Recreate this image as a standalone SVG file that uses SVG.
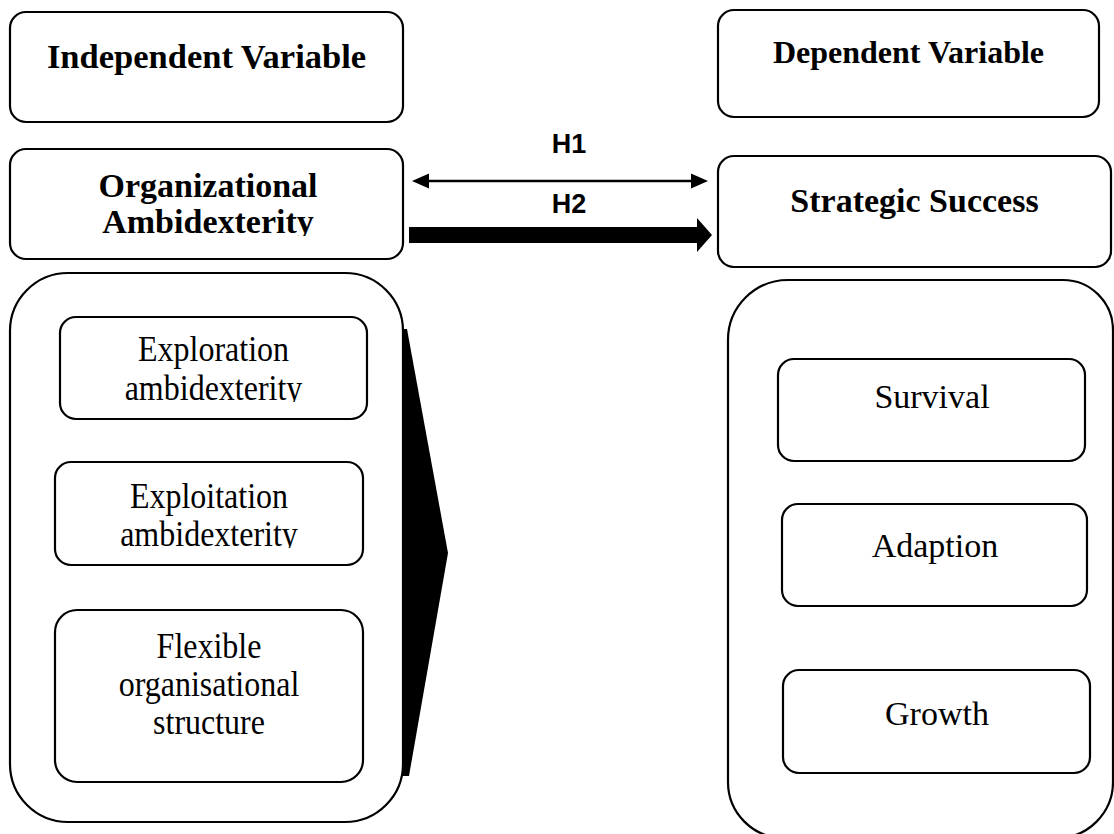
<svg xmlns="http://www.w3.org/2000/svg" width="1114" height="834" viewBox="0 0 1114 834">
  <defs>
    <style>
      .box { fill: #ffffff; stroke: #000000; stroke-width: 2.2; }
      .head { font-family: "Liberation Serif", "Times New Roman", serif; font-weight: bold; fill: #000; text-anchor: middle; }
      .item { font-family: "Liberation Serif", "Times New Roman", serif; fill: #000; text-anchor: middle; font-size: 32px; }
      .outcome { font-family: "Liberation Serif", "Times New Roman", serif; fill: #000; text-anchor: middle; font-size: 34px; }
      .hyp { font-family: "Liberation Sans", Arial, sans-serif; font-weight: bold; font-size: 27px; fill: #000; text-anchor: middle; }
      .solid { fill: #000000; stroke: none; }
    </style>
    <!-- clip regions: the lower text lines are cut at the bottom -->
    <clipPath id="clipOrg"><rect x="10" y="149" width="393" height="87"/></clipPath>
    <clipPath id="clipExplore"><rect x="60" y="317" width="307" height="85"/></clipPath>
    <clipPath id="clipExploit"><rect x="55" y="462" width="308" height="86"/></clipPath>
  </defs>

  <rect width="1114" height="834" fill="#ffffff"/>

  <!-- left column -->
  <g id="independent-variable">
    <rect class="box" x="10" y="12" width="393" height="110" rx="16"/>
    <text class="head" x="206.5" y="68" font-size="34.5">Independent Variable</text>
  </g>

  <g id="organizational-ambidexterity">
    <rect class="box" x="10" y="149" width="393" height="110" rx="16"/>
    <g clip-path="url(#clipOrg)">
      <text class="head" x="208" y="197" font-size="34">Organizational</text>
      <text class="head" x="208" y="233" font-size="34">Ambidexterity</text>
    </g>
  </g>

  <g id="ambidexterity-dimensions">
    <rect class="box" x="10" y="273" width="393" height="549" rx="58"/>
  </g>

  <!-- item labels are drawn slightly taller than wide -->
  <g id="exploration">
    <rect class="box" x="60" y="317" width="307" height="102" rx="16"/>
    <g clip-path="url(#clipExplore)">
      <text class="item" transform="translate(213.5 361) scale(1 1.1)">Exploration</text>
      <text class="item" transform="translate(213.5 400) scale(1 1.1)">ambidexterity</text>
    </g>
  </g>

  <g id="exploitation">
    <rect class="box" x="55" y="462" width="308" height="103" rx="16"/>
    <g clip-path="url(#clipExploit)">
      <text class="item" transform="translate(209 508) scale(1 1.1)">Exploitation</text>
      <text class="item" transform="translate(209 546) scale(1 1.1)">ambidexterity</text>
    </g>
  </g>

  <g id="flexible-structure">
    <rect class="box" x="55" y="610" width="308" height="172" rx="22"/>
    <text class="item" transform="translate(209 658) scale(1 1.1)">Flexible</text>
    <text class="item" transform="translate(209 696) scale(1 1.1)">organisational</text>
    <text class="item" transform="translate(209 734) scale(1 1.1)">structure</text>
  </g>

  <!-- right column -->
  <g id="dependent-variable">
    <rect class="box" x="718" y="10" width="381" height="107" rx="16"/>
    <text class="head" x="908.5" y="63" font-size="32">Dependent Variable</text>
  </g>

  <g id="strategic-success">
    <rect class="box" x="718" y="156" width="393" height="111" rx="16"/>
    <text class="head" x="914.5" y="212" font-size="34">Strategic Success</text>
  </g>

  <g id="success-dimensions">
    <path class="box" d="M 728 340 A 60 60 0 0 1 788 280 L 1063 280 A 50 50 0 0 1 1113 330 L 1113 782 A 56 56 0 0 1 1057 838 L 784 838 A 56 56 0 0 1 728 782 Z"/>
  </g>

  <g id="survival">
    <rect class="box" x="778" y="359" width="307" height="102" rx="16"/>
    <text class="outcome" x="932" y="408">Survival</text>
  </g>

  <g id="adaption">
    <rect class="box" x="782" y="504" width="305" height="102" rx="16"/>
    <text class="outcome" x="935" y="557">Adaption</text>
  </g>

  <g id="growth">
    <rect class="box" x="783" y="670" width="307" height="103" rx="16"/>
    <text class="outcome" x="937" y="725">Growth</text>
  </g>

  <!-- connectors -->
  <g id="connectors">
    <!-- H1: two-way relation -->
    <line x1="425" y1="181" x2="695" y2="181" stroke="#000" stroke-width="2.6"/>
    <polygon class="solid" points="412,181 429,173.5 429,188.5"/>
    <polygon class="solid" points="708,181 691,173.5 691,188.5"/>
    <text class="hyp" x="569" y="153">H1</text>

    <!-- H2: effect arrow -->
    <rect class="solid" x="409" y="227" width="289" height="16"/>
    <polygon class="solid" points="697,218 712,235 697,252"/>
    <text class="hyp" x="569" y="213">H2</text>

    <!-- chevron leaving the dimension panel -->
    <polygon class="solid" points="402,329 407,329 448,553 409,776 402,776"/>
  </g>
</svg>
